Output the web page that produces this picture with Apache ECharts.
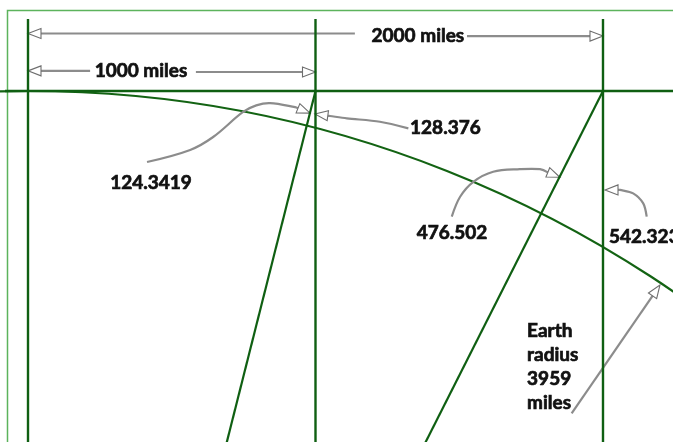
<!DOCTYPE html>
<html><head><meta charset="utf-8">
<script src="https://cdn.jsdelivr.net/npm/echarts@6/dist/echarts.min.js"></script>
<style>html,body{margin:0;padding:0;background:#fff}#c{width:673px;height:442px}</style>
</head><body><div id="c"></div>
<script>
// ---- data (miles) ----
const earthRadius = 3959;
const markDistances = [0, 1000, 2000];      // vertical marker lines
const radialStarts = [1000, 2000];          // lines drawn toward Earth's centre
const markTop = 250;                         // top of vertical markers (miles above tangent)
const tangentStart = -80;
const xRange = [-97.4, 2243.5];
const yRange = [-1220.9, 316.5];

// text labels
const labelTexts = ['2000 miles', '1000 miles', '128.376', '124.3419', '476.502', '542.323', 'Earth\nradius\n3959\nmiles'];
const labelX = [1356, 393, 1329, 428, 1475, 2021, 1736];
const labelY = [192, 70, -129, -320, -494, -508, -793];
const labelAlign = ['center', 'center', 'left', 'center', 'center', 'left', 'left'];
const labelVAlign = ['middle', 'middle', 'middle', 'middle', 'middle', 'middle', 'top'];

// dimension arrows (last point = tip)
const arrow2000Left = [[1137, 200], [0, 200]];
const arrow2000Right = [[1527, 191], [2000, 191]];
const arrow1000Left = [[216, 70], [0, 70]];
const arrow1000Right = [[584, 66], [1000, 66]];
// annotation arrows (last point = tip)
const arrow124 = [[414, -247], [564, -205], [644, -160], [748, -73], [794, -50], [842, -42], [929, -56], [981, -77]];
const arrow128 = [[1323, -130], [1224, -107], [1109, -95], [1050, -87], [998, -80]];
const arrow476 = [[1474, -437], [1503, -368], [1549, -316], [1618, -281], [1711, -272], [1781, -272], [1850, -300]];
const arrow542 = [[2152, -437], [2140, -391], [2105, -356], [2059, -344], [2007, -344]];
const arrowRadius = [[1891, -1121], [2198, -675]];

const allArrows = [arrow2000Left, arrow2000Right, arrow1000Left, arrow1000Right,
  arrow124, arrow128, arrow476, arrow542, arrowRadius];
const arrowSmooth = [0, 0, 0, 0, 0.35, 0.3, 0.35, 0.3, 0];

const green = '#0f5f12';
const chart = echarts.init(document.getElementById('c'));

const series = [];
markDistances.forEach(d => {
  series.push({ type: 'line', data: [[d, markTop], [d, yRange[0]]], symbol: 'none',
    lineStyle: { color: green, width: 2.4 }, clip: true, silent: true });
});
series.push({ type: 'line', data: [[tangentStart, 0], [xRange[1], 0]], symbol: 'none',
  lineStyle: { color: green, width: 2.4 }, clip: true, silent: true });
radialStarts.forEach(d => {
  series.push({ type: 'line', data: [[d, 0], [0, -earthRadius]], symbol: 'none',
    lineStyle: { color: green, width: 2.2 }, clip: true, silent: true });
});
// Earth surface
series.push({
  type: 'custom', clip: true, silent: true,
  data: [[0, -earthRadius, earthRadius]],
  renderItem: (params, api) => {
    const c = api.coord([api.value(0), api.value(1)]);
    const r = api.size([api.value(2), 0])[0];
    return { type: 'circle', shape: { cx: c[0], cy: c[1], r: r },
      style: { fill: null, stroke: '#136313', lineWidth: 2.2 } };
  }
});
// arrows
series.push({
  type: 'custom', clip: true, silent: true,
  data: allArrows.map((a, i) => [a[a.length - 1][0], a[a.length - 1][1], i]),
  renderItem: (params, api) => {
    const idx = api.value(2);
    const pts = allArrows[idx].map(p => api.coord(p));
    const tip = pts[pts.length - 1];
    const prev = pts[pts.length - 2];
    let dx = tip[0] - prev[0], dy = tip[1] - prev[1];
    const len = Math.sqrt(dx * dx + dy * dy) || 1;
    dx /= len; dy /= len;
    const L = 13, W = 5;
    const base = [tip[0] - dx * L, tip[1] - dy * L];
    const nx = -dy, ny = dx;
    const linePts = pts.slice(0, -1).concat([base]);
    return {
      type: 'group', children: [
        { type: 'polyline', shape: { points: linePts, smooth: arrowSmooth[idx] },
          style: { fill: null, stroke: '#8c8c8c', lineWidth: 2.2 } },
        { type: 'polygon', shape: { points: [tip, [base[0] + nx * W, base[1] + ny * W], [base[0] - nx * W, base[1] - ny * W]] },
          style: { fill: '#ffffff', stroke: '#6e6e6e', lineWidth: 1.1 } }
      ]
    };
  }
});
// labels
series.push({
  type: 'custom', clip: false, silent: true,
  data: labelTexts.map((t, i) => [labelX[i], labelY[i], i]),
  renderItem: (params, api) => {
    const i = api.value(2);
    const p = api.coord([api.value(0), api.value(1)]);
    return { type: 'text', x: p[0], y: p[1],
      style: { text: labelTexts[i], fill: '#111111', font: 'bold 19px Lato',
        stroke: '#111111', lineWidth: 0.7,
        align: labelAlign[i], verticalAlign: labelVAlign[i], lineHeight: 24 } };
  }
});

chart.setOption({
  animation: false,
  backgroundColor: '#ffffff',
  grid: { left: 0, right: 0, top: 0, bottom: 0 },
  xAxis: { type: 'value', min: xRange[0], max: xRange[1], show: false, splitLine: { show: false } },
  yAxis: { type: 'value', min: yRange[0], max: yRange[1], show: false, splitLine: { show: false } },
  graphic: [{ type: 'rect', left: 5, top: 8, shape: { width: 720, height: 500 },
    style: { fill: null, stroke: '#5cb35c', lineWidth: 1.5 }, silent: true, z: -1 }],
  series: series
});
</script></body></html>
